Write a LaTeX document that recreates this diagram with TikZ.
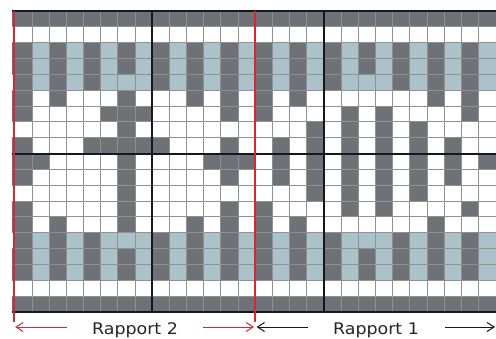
\documentclass[tikz,border=0pt]{standalone}
\usepackage{fontspec}
\setmainfont{DejaVu Sans}
\usetikzlibrary{arrows.meta}
\definecolor{cD}{RGB}{110,113,117}
\definecolor{cB}{RGB}{172,194,203}
\definecolor{cGrid}{RGB}{145,145,145}
\definecolor{cRed}{RGB}{212,40,52}
\definecolor{cBlk}{RGB}{22,22,32}
\newcommand\xo{14.9}
\newcommand\cw{17.17}
\newcommand\yo{11}
\newcommand\ch{15.84}
\newcommand\wcell[3]{\fill[#3] ({\xo+(#1-1)*\cw},{\yo+(#2-1)*\ch}) rectangle ++(\cw,\ch);}
\newcommand\wrow[2]{\fill[#2] (11.5,{\yo+(#1-1)*\ch}) rectangle (496,{\yo+#1*\ch});}
\tikzset{
  gridline/.style={draw=cGrid, line width=0.9pt},
  boldline/.style={draw=cBlk, line width=1.9pt},
  redline/.style={draw=cRed, line width=1.8pt},
  redarrow/.style={draw=cRed, line width=1pt, -{Straight Barb[length=7pt,width=9pt]}},
  blkarrow/.style={draw=cBlk, line width=1pt, -{Straight Barb[length=7pt,width=9pt]}},
  label/.style={anchor=base, inner sep=0pt, text=black!85, font=\fontsize{16}{19}\selectfont}
}
\begin{document}
\begin{tikzpicture}[x=1pt,y=-1pt]
\useasboundingbox (0,0) rectangle (496,338);
\fill[white] (0,0) rectangle (496,338);
% base rows
\wrow{1}{cD}
\wrow{19}{cD}
\foreach \r in {3,4,6,7,9,10,11,13,14,16,17}{\fill[cD] (11.5,{\yo+(\r-1)*\ch}) rectangle (\xo,{\yo+\r*\ch});}
% border weave rows
\foreach \r in {3,4,5,15,16,17}{
  \foreach \c in {2,4,...,28}{\wcell{\c}{\r}{cB}}
}
\foreach \r in {3,4,16,17}{
  \foreach \c in {1,3,...,27}{\wcell{\c}{\r}{cD}}
}
\foreach \r in {5,15}{
  \foreach \c in {7,21}{\wcell{\c}{\r}{cB}}
  \foreach \c in {1,3,5,9,11,13,15,17,19,23,25,27}{\wcell{\c}{\r}{cD}}
}
% motif rows
\foreach \r/\cols in {
  6/{1,3,7,11,13,15,17,25,27},
  7/{1,6,7,8,13,15,20,22,27},
  8/{7,18,20,22,24},
  9/{1,5,6,7,8,9,13,16,18,20,22,24,26},
  10/{1,2,7,12,13,14,16,18,20,22,24,26,28},
  11/{1,7,13,16,18,20,22,24,26},
  12/{7,18,20,22,24},
  13/{1,7,13,15,20,22,27},
  14/{1,3,7,11,13,15,17,25}}{
  \foreach \c in \cols {\wcell{\c}{\r}{cD}}
}
% thin grid
\foreach \k in {1,...,27}{\draw[gridline] ({\xo+\k*\cw},\yo) -- ({\xo+\k*\cw},{\yo+19*\ch});}
\foreach \k in {1,...,18}{\draw[gridline] (11.5,{\yo+\k*\ch}) -- (496,{\yo+\k*\ch});}
% bold lines
\coordinate (tl) at (11.5,\yo);
\coordinate (tr) at (496,\yo);
\coordinate (ml) at (11.5,{\yo+9*\ch});
\coordinate (mr) at (496,{\yo+9*\ch});
\coordinate (bl) at (11.5,{\yo+19*\ch});
\coordinate (br) at (496,{\yo+19*\ch});
\coordinate (v8t) at ({\xo+8*\cw},\yo);
\coordinate (v8b) at ({\xo+8*\cw},{\yo+19*\ch});
\coordinate (v18t) at ({\xo+18*\cw},\yo);
\coordinate (v18b) at ({\xo+18*\cw},{\yo+19*\ch});
\draw[boldline, line width=1.3pt] (tl) -- (tr);
\draw[boldline] (ml) -- (mr);
\draw[boldline] (bl) -- (br);
\draw[boldline] (v8t) -- (v8b);
\draw[boldline] (v18t) -- (v18b);
% red rapport lines
\coordinate (r0t) at (14.1,\yo);
\coordinate (r0b) at (14.1,322);
\coordinate (r1t) at (255.3,\yo);
\coordinate (r1b) at (255.3,322);
\draw[redline] (r0t) -- (r0b);
\draw[redline] (r1t) -- (r1b);
% arrows
\coordinate (a2ls) at (66.7,327);
\coordinate (a2le) at (15.2,327);
\coordinate (a2rs) at (203,327);
\coordinate (a2re) at (254,327);
\coordinate (a1ls) at (308.3,327);
\coordinate (a1le) at (256.6,327);
\coordinate (a1rs) at (445,327);
\coordinate (a1re) at (495,327);
\draw[redarrow] (a2ls) -- (a2le);
\draw[redarrow] (a2rs) -- (a2re);
\draw[blkarrow] (a1ls) -- (a1le);
\draw[blkarrow] (a1rs) -- (a1re);
% labels
\node[label] (rap2) at (135,334.3) {\scalebox{1.09}[1]{Rapport 2}};
\node[label] (rap1) at (376,334.3) {\scalebox{1.09}[1]{Rapport 1}};
\end{tikzpicture}
\end{document}
